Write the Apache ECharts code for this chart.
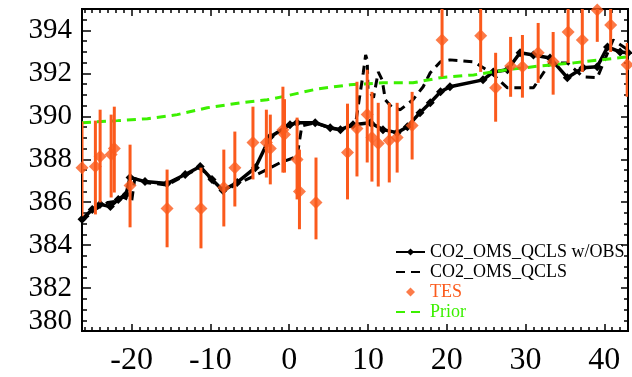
<!DOCTYPE html>
<html><head><meta charset="utf-8">
<script src="https://cdn.jsdelivr.net/npm/echarts@6/dist/echarts.min.js"></script>
<style>html,body{margin:0;padding:0;background:#fff}#c{width:632px;height:377px}</style>
</head><body><div id="c"></div>
<script>
// ---- data ----
const xTickLabels = [-20, -10, 0, 10, 20, 30, 40];
const yTickLabels = [380, 382, 384, 386, 388, 390, 392, 394];

const obsDays = [-26.3,-25.0,-24.0,-22.7,-21.7,-20.7,-20.2,-18.3,-15.5,-13.2,-11.3,-9.8,-8.4,-6.6,-4.3,-2.4,0.1,1.0,3.3,5.2,6.5,8.1,10.3,11.9,13.7,15.0,16.6,17.9,19.2,20.4,24.6,25.9,27.7,29.3,31.0,33.1,35.3,37.3,39.1,40.4,42.0,43.0];
const obsVals = [385.20,385.66,385.90,385.80,386.13,386.36,387.15,386.96,386.87,387.29,387.66,387.06,386.55,386.92,387.61,389.05,389.61,389.70,389.70,389.47,389.38,389.61,389.70,389.38,389.24,389.52,390.17,390.63,391.14,391.38,391.70,392.07,392.17,392.96,392.86,392.72,391.80,392.26,392.31,393.23,393.00,392.96];

const qclsDays = [-26.3,-25.0,-24.0,-23.0,-22.1,-21.2,-20.0,-19.6,-18.3,-15.5,-13.2,-11.3,-9.8,-8.4,-6.6,-4.3,-1.1,1.0,1.6,3.3,5.2,6.5,8.4,9.4,9.7,9.9,10.0,10.7,11.3,11.8,12.2,13.1,14.1,15.7,17.0,17.9,19.2,20.4,23.4,25.5,27.7,31.0,33.1,35.3,37.3,39.1,41.1,43.0];
const qclsVals = [385.11,385.57,385.80,385.99,386.04,386.27,386.04,387.10,386.92,386.80,387.25,387.62,387.00,386.50,386.85,387.25,387.85,388.13,389.55,389.70,389.45,389.38,389.61,392.03,392.86,392.63,391.24,390.87,392.07,391.70,390.77,390.40,390.31,390.77,391.38,392.03,392.54,392.63,392.54,392.07,391.33,391.33,392.49,392.49,391.84,391.80,393.56,393.10];

const tesDays = [-26.3,-24.6,-24.0,-22.6,-22.2,-20.2,-15.5,-11.2,-8.3,-6.9,-4.6,-2.9,-2.4,-0.8,-0.6,1.0,1.3,3.4,7.4,8.6,9.9,10.5,11.3,12.7,13.7,15.6,19.4,24.3,26.2,28.1,29.6,31.6,33.5,35.4,37.2,39.1,40.8,42.9];
const tesVals = [387.61,387.66,388.13,388.22,388.50,386.78,385.71,385.71,386.69,387.61,388.78,388.78,388.50,389.38,389.15,387.99,386.50,385.99,388.31,389.43,390.08,389.01,388.73,388.87,389.01,389.57,393.56,393.75,391.33,392.35,392.31,392.96,392.54,393.93,393.56,394.95,394.26,392.40];
const tesLow = [385.34,385.43,385.99,386.22,386.45,384.83,383.90,383.85,384.87,385.80,387.06,387.15,386.83,387.38,387.38,386.13,384.74,384.27,386.13,387.20,387.85,386.96,386.73,386.92,387.38,387.99,391.84,392.07,389.75,390.91,390.87,391.56,391.01,392.49,392.07,393.47,393.00,390.91];
const tesHigh = [389.75,389.80,390.31,390.08,390.45,388.68,387.52,387.61,388.45,389.29,390.45,390.31,390.08,391.38,390.80,389.94,388.45,388.08,390.59,391.61,392.17,391.14,390.63,390.63,390.63,391.14,395.05,395.05,392.96,393.70,393.79,394.35,393.93,395.05,395.05,395.30,395.10,393.42];

const priorDays = [-26.3,-21.8,-18.0,-14.2,-10.4,-6.2,-2.8,-0.25,3.6,7.7,11.9,15.7,19.2,23.4,27.7,31.9,36.1,39.5,43.0];
const priorVals = [389.70,389.80,389.89,390.08,390.40,390.63,390.77,390.96,391.28,391.47,391.56,391.56,391.80,391.93,392.17,392.35,392.49,392.63,392.77];

// ---- chart ----
const X_MIN = -26.3, X_MAX = 43, Y_MIN = 380, Y_MAX = 395;
const ORANGE = '#fb5a1c', GREEN = '#3cf000';
const FONT = 'Liberation Serif';
const DIAMOND = 'path://M5,0L10,5L5,10L0,5Z';

const zip = (a, b) => a.map((v, i) => [v, b[i]]);
const xMinor = [], yMinor = [];
for (let v = Math.ceil(X_MIN); v <= X_MAX; v++) xMinor.push(v);
for (let v = Y_MIN; v <= Y_MAX; v += 0.5) yMinor.push(v);

function axis(kind, pos, vals, len, label) {
  const a = {
    type: 'value', position: pos,
    min: kind === 'x' ? X_MIN : Y_MIN, max: kind === 'x' ? X_MAX : Y_MAX,
    axisLine: { show: false, onZero: false }, splitLine: { show: false },
    axisTick: { show: true, inside: true, length: len, customValues: vals,
      lineStyle: { color: '#000', width: 1.5 } },
    axisLabel: { show: false }
  };
  if (label) a.axisLabel = label;
  return a;
}

const xLabel = { show: true, customValues: xTickLabels, color: '#000',
  fontFamily: FONT, fontSize: 32, margin: 14 };
const yLabel = { show: true, customValues: yTickLabels, color: '#000',
  fontFamily: FONT, fontSize: 29, margin: 10,
  formatter: v => v === 380 ? '{s|380}' : String(v),
  rich: { s: { fontFamily: FONT, fontSize: 29, color: '#000', padding: [0, 0, 20, 0] } } };

const chart = echarts.init(document.getElementById('c'));
chart.setOption({
  animation: false,
  backgroundColor: '#fff',
  grid: { left: 82, right: 4, top: 9, bottom: 45, show: true,
    borderColor: '#000', borderWidth: 2, backgroundColor: 'transparent' },
  xAxis: [
    axis('x', 'bottom', xTickLabels, 7, xLabel),
    axis('x', 'bottom', xMinor, 4),
    axis('x', 'top', xTickLabels, 7),
    axis('x', 'top', xMinor, 4)
  ],
  yAxis: [
    axis('y', 'left', yTickLabels, 9, yLabel),
    axis('y', 'left', yMinor, 5),
    axis('y', 'right', yTickLabels, 7),
    axis('y', 'right', yMinor, 4)
  ],
  legend: {
    left: 395, top: 243, orient: 'vertical', padding: 0, itemGap: 2,
    itemWidth: 29, itemHeight: 9, selectedMode: false, symbolKeepAspect: true,
    textStyle: { fontFamily: FONT, fontSize: 18, color: '#000' },
    data: [
      { name: 'CO2_OMS_QCLS w/OBS' },
      { name: 'CO2_OMS_QCLS', itemStyle: { opacity: 0 } },
      { name: 'TES', icon: DIAMOND, textStyle: { color: ORANGE } },
      { name: 'Prior', itemStyle: { opacity: 0 }, textStyle: { color: GREEN } }
    ]
  },
  series: [
    { name: 'CO2_OMS_QCLS w/OBS', type: 'line', data: zip(obsDays, obsVals),
      lineStyle: { color: '#000', width: 3.5 }, itemStyle: { color: '#000' },
      symbol: 'diamond', symbolSize: 9, showSymbol: true, z: 2 },
    { name: 'CO2_OMS_QCLS', type: 'line', data: zip(qclsDays, qclsVals),
      lineStyle: { color: '#000', width: 3, type: [9, 6] }, itemStyle: { color: '#000' },
      symbol: 'none', z: 2 },
    { name: 'Prior', type: 'line', data: zip(priorDays, priorVals),
      lineStyle: { color: GREEN, width: 3, type: [9, 6] }, itemStyle: { color: GREEN },
      symbol: 'none', z: 3 },
    { name: 'TES_err', type: 'custom', clip: true, z: 4,
      data: tesDays.map((d, i) => [d, tesLow[i], tesHigh[i]]),
      encode: { x: 0, y: [1, 2] },
      renderItem: function (params, api) {
        const x = api.value(0);
        const p1 = api.coord([x, Math.max(api.value(1), Y_MIN)]);
        const p2 = api.coord([x, Math.min(api.value(2), Y_MAX)]);
        return { type: 'line', shape: { x1: p1[0], y1: p1[1], x2: p2[0], y2: p2[1] },
          style: { stroke: ORANGE, lineWidth: 3 } };
      } },
    { name: 'TES', type: 'scatter', data: zip(tesDays, tesVals), clip: true,
      symbol: 'diamond', symbolSize: 13, itemStyle: { color: ORANGE }, z: 5 }
  ]
});
</script>
</body></html>
